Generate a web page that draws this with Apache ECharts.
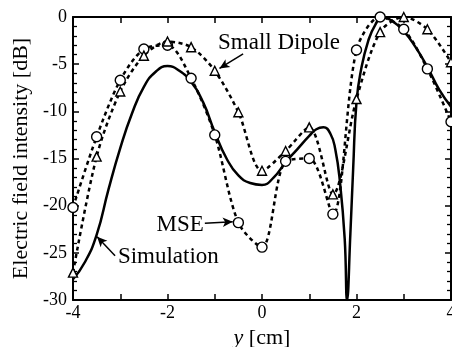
<!DOCTYPE html>
<html>
<head>
<meta charset="utf-8">
<script src="https://cdn.jsdelivr.net/npm/echarts@6/dist/echarts.min.js"></script>
<style>html,body{margin:0;padding:0;background:#fff;}#c{width:452px;height:347px;}</style>
</head>
<body>
<div id="c"></div>
<script>
// Data (x in cm, y in dB)
const simX = [-4,-3.75,-3.5,-3.25,-3,-2.75,-2.5,-2.25,-2,-1.75,-1.5,-1.25,-1,-0.75,-0.5,-0.25,0,0.25,0.5,0.75,1,1.15,1.3,1.45,1.55,1.65,1.75,1.8,1.87,1.93,2,2.1,2.25,2.4,2.55,2.75,3,3.25,3.5,3.75,4];
const simY = [-27.8,-26.0,-23.1,-18.3,-13.9,-10.2,-7.4,-5.8,-5.2,-5.7,-6.9,-9.0,-12.2,-15.0,-16.8,-17.6,-17.8,-17.0,-15.4,-14.0,-12.6,-11.9,-11.7,-12.4,-14.0,-17.5,-23.5,-30,-23,-16,-9,-5.5,-2.5,-0.8,0,-0.4,-1.5,-3.2,-5.3,-7.7,-9.5];
const mseX = [-4,-3.5,-3,-2.5,-2,-1.5,-1,-0.5,0,0.5,1,1.5,2,2.5,3,3.5,4];
const mseY = [-20.2,-12.7,-6.7,-3.4,-3.0,-6.5,-12.5,-21.8,-24.4,-15.3,-15.0,-20.9,-3.5,0,-1.3,-5.5,-11.1];
const dipX = [-4,-3.5,-3,-2.5,-2,-1.5,-1,-0.5,0,0.5,1,1.5,2,2.5,3,3.5,4];
const dipY = [-27.1,-14.8,-7.9,-4.1,-2.6,-3.2,-5.7,-10.1,-16.3,-14.2,-11.7,-18.8,-8.7,-1.6,0,-1.3,-4.8];
const xTicks = [-4,-2,0,2,4];
const yTicks = [-30,-25,-20,-15,-10,-5,0];

const FONT = 'Liberation Serif';
const zip = (a,b) => a.map((v,i)=>[v,b[i]]);

const chart = echarts.init(document.getElementById('c'), null, {renderer:'canvas'});
const axisCommon = {
  axisLine:{show:true, onZero:false, lineStyle:{color:'#000', width:2}},
  axisTick:{show:true, inside:true, length:6, lineStyle:{color:'#000', width:1.5}},
  minorTick:{show:true, length:4, lineStyle:{color:'#000', width:1.3}},
  splitLine:{show:false}, minorSplitLine:{show:false}
};
const option = {
  animation:false,
  backgroundColor:'#fff',
  grid:{left:73, right:1, top:17, bottom:47, containLabel:false, outerBoundsMode:'none'},
  xAxis:[
    Object.assign({type:'value', position:'bottom', min:xTicks[0], max:xTicks[xTicks.length-1], interval:2,
      axisLabel:{color:'#000', fontFamily:FONT, fontSize:18, margin:4},
      name:'{i|y} [cm]', nameLocation:'middle', nameGap:20,
      nameTextStyle:{color:'#000', fontFamily:FONT, fontSize:22, rich:{i:{fontStyle:'italic', fontFamily:FONT, fontSize:22, color:'#000'}}}
    }, axisCommon, {minorTick:{show:true, splitNumber:2, length:6, lineStyle:{color:'#000', width:1.5}}}),
    Object.assign({type:'value', position:'top', min:-4, max:4, interval:2, axisLabel:{show:false}}, axisCommon,
      {minorTick:{show:true, splitNumber:2, length:6, lineStyle:{color:'#000', width:1.5}}})
  ],
  yAxis:[
    Object.assign({type:'value', position:'left', min:yTicks[0], max:yTicks[yTicks.length-1], interval:5,
      axisLabel:{color:'#000', fontFamily:FONT, fontSize:18, margin:6},
      name:'Electric field intensity [dB]', nameLocation:'middle', nameGap:37,
      nameTextStyle:{color:'#000', fontFamily:FONT, fontSize:22}
    }, axisCommon, {minorTick:{show:true, splitNumber:5, length:4, lineStyle:{color:'#000', width:1.3}}}),
    Object.assign({type:'value', position:'right', min:-30, max:0, interval:5, axisLabel:{show:false}}, axisCommon,
      {minorTick:{show:true, splitNumber:5, length:4, lineStyle:{color:'#000', width:1.3}}})
  ],
  series:[
    {type:'line', name:'Simulation', data:zip(simX,simY), smooth:0.5, showSymbol:false, symbol:'none',
      lineStyle:{color:'#000', width:2.5}, z:3,
      markLine:{silent:true, symbol:['none','arrow'], symbolSize:[7,10],
        lineStyle:{color:'#000', width:1.5, type:'solid'}, label:{show:false},
        data:[
          [{coord:[-3.11,-25.3]},{coord:[-3.49,-23.3]}],
          [{coord:[-1.21,-21.86]},{coord:[-0.62,-21.7]}],
          [{coord:[-0.40,-3.9]},{coord:[-0.90,-5.45]}]
        ]}
    },
    {type:'line', name:'MSE', data:zip(mseX,mseY), smooth:0.3, symbol:'circle', symbolSize:10,
      itemStyle:{color:'#fff', borderColor:'#000', borderWidth:1.4},
      lineStyle:{color:'#000', width:2.5, type:[4,3.5]}, z:4},
    {type:'line', name:'Small Dipole', data:zip(dipX,dipY), smooth:0.3, symbol:'triangle', symbolSize:9,
      itemStyle:{color:'#fff', borderColor:'#000', borderWidth:1.4},
      lineStyle:{color:'#000', width:2.5, type:[4,3.5]}, z:4}
  ]
};
chart.setOption(option);

const notes = [
  {text:'Small Dipole', coord:[-0.93,-2.75], align:'left'},
  {text:'MSE', coord:[-1.23,-22.05], align:'right'},
  {text:'Simulation', coord:[-3.05,-25.45], align:'left'}
];
chart.setOption({graphic: notes.map(n=>{
  const p = chart.convertToPixel({gridIndex:0}, n.coord);
  return {type:'text', x:p[0], y:p[1], z:100,
    style:{text:n.text, fill:'#000', font:'23px "Liberation Serif"', textAlign:n.align, textVerticalAlign:'middle'}};
})});
</script>
</body>
</html>
